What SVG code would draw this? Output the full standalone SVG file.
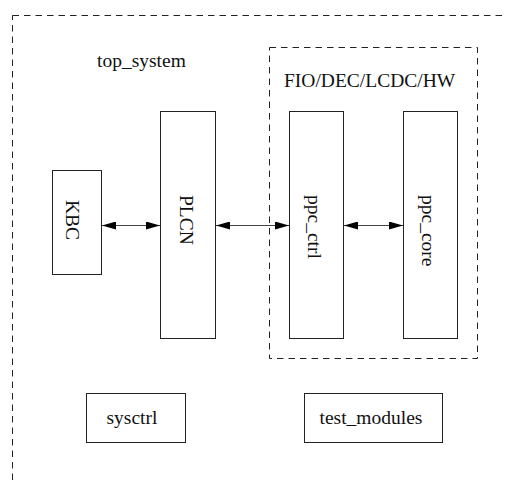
<svg xmlns="http://www.w3.org/2000/svg" width="507" height="481" viewBox="0 0 507 481">
<style>
.box{fill:#fff;stroke:#222;stroke-width:1}
.dash{fill:none;stroke:#222;stroke-width:1;stroke-dasharray:6.5,5}
.t{font-family:"Liberation Serif","Times New Roman",serif;font-size:19.5px;fill:#111}
.c{stroke:#444;stroke-width:1.2;fill:none;marker-start:url(#ah);marker-end:url(#ah)}
</style>
<defs>
<marker id="ah" viewBox="0 0 14 8" refX="14" refY="4" markerWidth="14" markerHeight="8" markerUnits="userSpaceOnUse" orient="auto-start-reverse">
<path d="M0,0 L14,4 L0,8 Z" fill="#000"/>
</marker>
</defs>
<rect fill="#fff" width="507" height="481"/>
<g id="top_system">
<rect class="dash" x="12.5" y="15.5" width="520" height="500"/>
<text class="t" x="97" y="67">top_system</text>
</g>
<g id="fio_group">
<rect class="dash" x="269.5" y="47.5" width="208" height="311"/>
<text class="t" x="284" y="87">FIO/DEC/LCDC/HW</text>
</g>
<g id="kbc">
<rect class="box" x="52.5" y="170.5" width="49" height="104"/>
<text class="t" transform="translate(66,200) rotate(90)">KBC</text>
</g>
<g id="plcn">
<rect class="box" x="160.5" y="111.5" width="55" height="227"/>
<text class="t" transform="translate(180,195) rotate(90)">PLCN</text>
</g>
<g id="ppc_ctrl">
<rect class="box" x="289.5" y="111.5" width="54" height="227"/>
<text class="t" transform="translate(308,195) rotate(90)">ppc_ctrl</text>
</g>
<g id="ppc_core">
<rect class="box" x="403.5" y="111.5" width="54" height="227"/>
<text class="t" transform="translate(422,195) rotate(90)">ppc_core</text>
</g>
<g id="sysctrl">
<rect class="box" x="86.5" y="393.5" width="99" height="49"/>
<text class="t" x="106.5" y="423.5">sysctrl</text>
</g>
<g id="test_modules">
<rect class="box" x="304.5" y="393.5" width="138" height="49"/>
<text class="t" x="319.5" y="423.5">test_modules</text>
</g>
<g id="connectors">
<line class="c" x1="102" y1="225.5" x2="160" y2="225.5"/>
<line class="c" x1="216" y1="225.5" x2="289" y2="225.5"/>
<line class="c" x1="344" y1="225.5" x2="403" y2="225.5"/>
</g>
</svg>
